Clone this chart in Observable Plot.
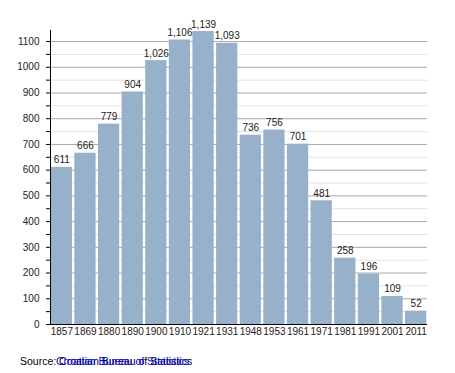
<!DOCTYPE html>
<html><head><meta charset="utf-8">
<script src="https://cdn.jsdelivr.net/npm/d3@7"></script>
<script src="https://cdn.jsdelivr.net/npm/@observablehq/plot@0.6"></script>
<style>
body{margin:0;background:#fff;font-family:"Liberation Sans",Arial,sans-serif;}
#wrap{position:relative;width:455px;height:373px;}
#cap{position:absolute;left:20px;top:355px;font-size:10.5px;color:#000;white-space:nowrap;}
#cap .link{position:absolute;left:36px;top:0;color:#0000ee;}
</style></head>
<body><div id="wrap"><div id="chart"></div>
<div id="cap">Source: Croatian Bureau of Statistics<span class="link">Croatian Bureau of Statistics</span></div></div>
<script>
const years = ["1857","1869","1880","1890","1900","1910","1921","1931","1948","1953","1961","1971","1981","1991","2001","2011"];
const population = [611,666,779,904,1026,1106,1139,1093,736,756,701,481,258,196,109,52];
const majorTicks = [0,100,200,300,400,500,600,700,800,900,1000,1100];
const minorTicks = [50,150,250,350,450,550,650,750,850,950,1050];

const data = years.map((y,i)=>({year:y, value:population[i]}));
const fmt = d3.format(",");

const chart = Plot.plot({
  width: 455, height: 345,
  marginLeft: 50, marginRight: 28, marginTop: 30, marginBottom: 21,
  style: {fontFamily: '"Liberation Sans", Arial, sans-serif', fontSize: "10px", color: "#222"},
  x: {domain: years, paddingInner: 0.1, paddingOuter: 0.03, round: false, label: null},
  y: {domain: [0, 1143], label: null},
  marks: [
    Plot.ruleY(minorTicks, {stroke: "#e2e2e2", strokeWidth: 1}),
    Plot.ruleY(majorTicks.filter(d=>d>0), {stroke: "#a8a8a8", strokeWidth: 1}),
    Plot.barY(data, {x: "year", y: "value", fill: "#98b1cb"}),
    Plot.text(data, {x: "year", y: "value", text: d => fmt(d.value), lineAnchor: "bottom", dy: -4, fill: "#222", fontSize: 10}),
    Plot.axisY(minorTicks, {tickSize: 4, text: null, stroke: "#000"}),
    Plot.axisY(majorTicks, {tickSize: 4, tickPadding: 7, tickFormat: d3.format("d"), stroke: "#000", fill: "#222"}),
    Plot.axisX({tickSize: 0, tickPadding: 3, fill: "#222"}),
    Plot.frame({anchor: "left", stroke: "#000"}),
    Plot.ruleY([0], {stroke: "#000"})
  ]
});
document.getElementById("chart").appendChild(chart);
</script></body></html>
